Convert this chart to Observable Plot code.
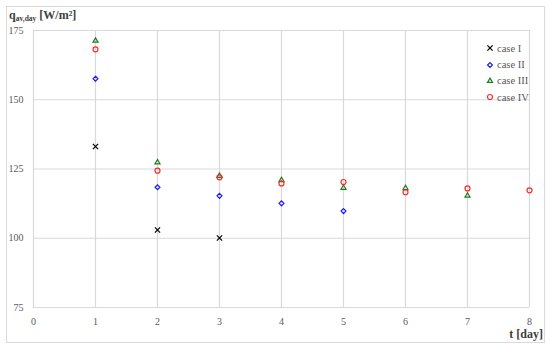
<!DOCTYPE html>
<html>
<head>
<meta charset="utf-8">
<script src="https://cdn.jsdelivr.net/npm/d3@7"></script>
<script src="https://cdn.jsdelivr.net/npm/@observablehq/plot@0.6"></script>
<style>
  body { margin: 0; background: #fff; }
  #wrap { position: relative; width: 550px; height: 348px; font-family: "Liberation Serif", serif; }
  #frame { position: absolute; left: 6px; top: 6px; width: 537px; height: 335px; border: 1px solid #d9d9d9; pointer-events: none; }
  #ytitle { position: absolute; left: 9px; top: 8px; font-size: 12px; font-weight: bold; color: #404040; white-space: nowrap; line-height: 14px; }
  #ytitle .sub { font-size: 7.5px; vertical-align: -0.3em; }
  #xtitle { position: absolute; right: 7px; top: 328.5px; font-size: 12px; font-weight: bold; color: #404040; line-height: 11px; }
  #legend { position: absolute; left: 485px; top: 40px; font-size: 10.5px; color: #595959; }
  #legend .row { display: flex; align-items: center; height: 16.4px; }
  #legend svg { margin-right: 2px; }
</style>
</head>
<body>
<div id="wrap">
  <div id="chart"></div>
  <div id="frame"></div>
  <div id="ytitle">q<span class="sub">av,day</span> [W/m²]</div>
  <div id="xtitle">t [day]</div>
  <div id="legend"></div>
</div>
<script>
// ---- data ----
const xTicks = [0, 1, 2, 3, 4, 5, 6, 7, 8];
const yTicks = [75, 100, 125, 150, 175];
const seriesNames = ["case I", "case II", "case III", "case IV"];
const caseI   = [133.1, 103.0, 100.1];
const caseII  = [157.6, 118.4, 115.3, 112.6, 109.8];
const caseIII = [171.3, 127.4, 122.5, 121.0, 118.2, 118.1, 115.4];
const caseIV  = [168.2, 124.4, 122.0, 119.8, 120.3, 116.6, 118.0, 117.3];

// ---- styling ----
const styles = [
  { symbol: "times",    stroke: "#000000", r: 2.5 },
  { symbol: "diamond2", stroke: "#1a1aff", r: 2.2 },
  { symbol: "triangle2",stroke: "#1e7a1e", r: 2.4 },
  { symbol: "circle",   stroke: "#ff2a2a", r: 2.5 }
];

const rows = vals => vals.map((v, i) => ({ day: i + 1, q: v }));
const allSeries = [caseI, caseII, caseIII, caseIV];

const chart = Plot.plot({
  width: 550,
  height: 348,
  marginTop: 30,
  marginBottom: 41,
  marginLeft: 33,
  marginRight: 21,
  x: { domain: [0, 8] },
  y: { domain: [75, 175] },
  style: { fontFamily: "Liberation Serif, serif", fontSize: "10px", color: "#595959", background: "transparent" },
  marks: [
    Plot.gridX(xTicks, { stroke: "#d9d9d9", strokeOpacity: 1, strokeWidth: 1.2 }),
    Plot.gridY(yTicks, { stroke: "#d9d9d9", strokeOpacity: 1, strokeWidth: 1.2 }),
    Plot.axisX(xTicks, { tickSize: 0, tickPadding: 10, label: null }),
    Plot.axisY(yTicks, { tickSize: 0, tickPadding: 10, label: null }),
    ...allSeries.map((vals, k) => Plot.dot(rows(vals), {
      x: "day", y: "q",
      symbol: styles[k].symbol, stroke: styles[k].stroke, r: styles[k].r,
      fill: "none", strokeWidth: 1.2
    }))
  ]
});
document.getElementById("chart").appendChild(chart);

// ---- legend ----
const legend = d3.select("#legend");
const symMap = { times: d3.symbolTimes, diamond2: d3.symbolDiamond2, triangle2: d3.symbolTriangle2, circle: d3.symbolCircle };
seriesNames.forEach((name, k) => {
  const row = legend.append("div").attr("class", "row");
  const s = row.append("svg").attr("width", 10).attr("height", 10);
  s.append("path")
    .attr("transform", "translate(5,5)")
    .attr("d", d3.symbol(symMap[styles[k].symbol], Math.PI * styles[k].r * styles[k].r)())
    .attr("fill", "none").attr("stroke", styles[k].stroke).attr("stroke-width", 1.2);
  row.append("span").text(name);
});
</script>
</body>
</html>
